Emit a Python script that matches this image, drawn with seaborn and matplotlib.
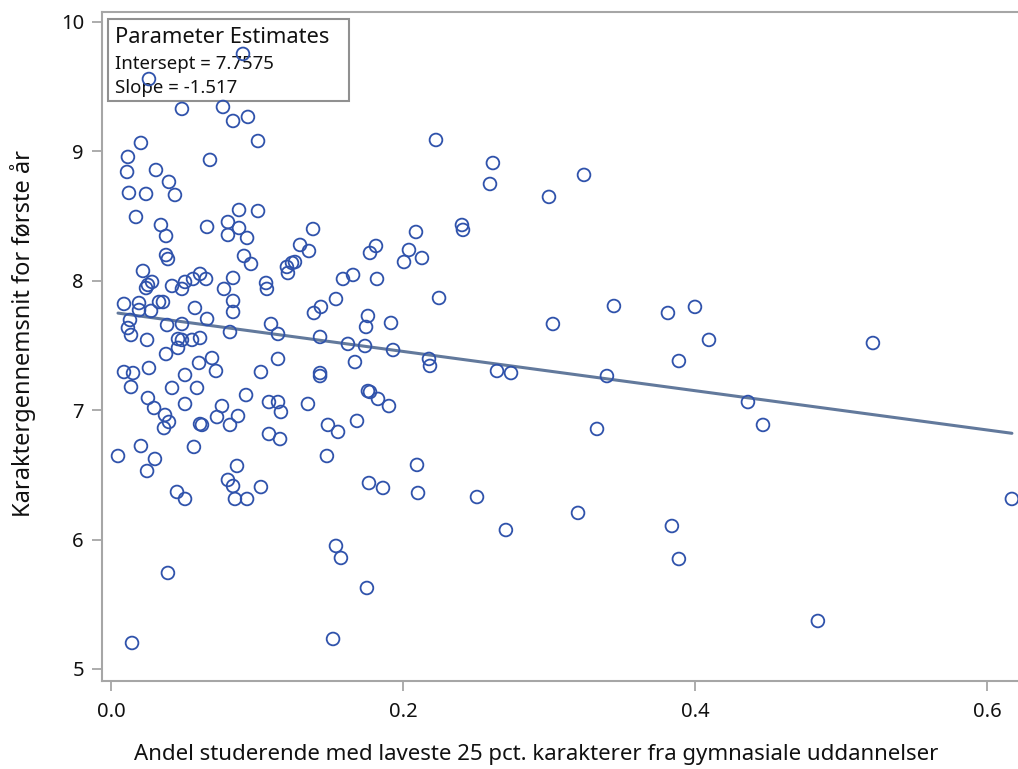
import matplotlib
matplotlib.use("Agg")
import matplotlib.pyplot as plt
import seaborn as sns
import numpy as np
import pandas as pd
from matplotlib.patches import Rectangle

# ---- data ----
share_low = [
    0.0904, 0.0260, 0.0486, 0.0767, 0.0836, 0.0938, 0.0205, 0.1007, 0.0116, 0.0678,
    0.0110, 0.0308, 0.0397, 0.0123, 0.0240, 0.0438, 0.0877, 0.1007, 0.0171, 0.0342,
    0.0658, 0.0801, 0.0877, 0.0377, 0.0801, 0.0932, 0.2226, 0.2616, 0.2596, 0.1384,
    0.2089, 0.2404, 0.2411, 0.1295, 0.0377, 0.0390, 0.0911, 0.0959, 0.0219, 0.1205,
    0.1240, 0.1260, 0.1212, 0.0253, 0.0281, 0.0418, 0.0486, 0.0507, 0.0562, 0.0610,
    0.0651, 0.0836, 0.0774, 0.1062, 0.1068, 0.0089, 0.0192, 0.0329, 0.0356, 0.0575,
    0.0836, 0.0836, 0.0192, 0.0274, 0.0130, 0.0116, 0.0137, 0.0384, 0.0486, 0.0658,
    0.0815, 0.1096, 0.1144, 0.0247, 0.0459, 0.0486, 0.0459, 0.0555, 0.0610, 0.0377,
    0.0603, 0.0692, 0.0719, 0.1144, 0.1027, 0.0089, 0.0151, 0.0260, 0.0507, 0.0137,
    0.0418, 0.0589, 0.0253, 0.0295, 0.0507, 0.0925, 0.0760, 0.0726, 0.0870, 0.0815,
    0.1082, 0.1144, 0.1164, 0.0370, 0.0397, 0.0363, 0.0610, 0.0623, 0.1082, 0.1158,
    0.0205, 0.0568, 0.0048, 0.0301, 0.0240, 0.1356, 0.1774, 0.1815, 0.2041, 0.2007,
    0.2130, 0.1589, 0.1658, 0.1822, 0.1541, 0.2247, 0.1390, 0.1438, 0.1760, 0.1747,
    0.1918, 0.1432, 0.1623, 0.1740, 0.1932, 0.2178, 0.2185, 0.2644, 0.1671, 0.1432,
    0.1432, 0.1760, 0.1774, 0.1829, 0.1904, 0.1349, 0.1486, 0.1555, 0.1685, 0.1479,
    0.0247, 0.0863, 0.0801, 0.0836, 0.1027, 0.0452, 0.0507, 0.0849, 0.0932, 0.0390,
    0.0144, 0.2096, 0.1767, 0.1863, 0.2103, 0.2507, 0.1541, 0.1575, 0.1753, 0.1521,
    0.3240, 0.3000, 0.3445, 0.3815, 0.4000, 0.3027, 0.4096, 0.3890, 0.2740, 0.3397,
    0.5219, 0.4363, 0.4466, 0.6171, 0.4842, 0.3329, 0.3199, 0.2705, 0.3842, 0.3890,
]
grade_first_year = [
    9.753, 9.559, 9.328, 9.343, 9.235, 9.266, 9.065, 9.080, 8.957, 8.934,
    8.841, 8.856, 8.764, 8.679, 8.671, 8.663, 8.547, 8.539, 8.493, 8.431,
    8.416, 8.454, 8.408, 8.346, 8.354, 8.331, 9.088, 8.910, 8.748, 8.400,
    8.377, 8.431, 8.393, 8.277, 8.199, 8.168, 8.192, 8.130, 8.076, 8.107,
    8.138, 8.145, 8.060, 7.968, 7.991, 7.960, 7.937, 7.991, 8.014, 8.053,
    8.014, 8.022, 7.937, 7.983, 7.937, 7.821, 7.828, 7.836, 7.836, 7.790,
    7.844, 7.759, 7.774, 7.767, 7.697, 7.635, 7.581, 7.658, 7.666, 7.705,
    7.604, 7.666, 7.589, 7.543, 7.550, 7.543, 7.481, 7.543, 7.558, 7.434,
    7.365, 7.403, 7.303, 7.396, 7.295, 7.295, 7.287, 7.326, 7.272, 7.179,
    7.172, 7.172, 7.094, 7.017, 7.048, 7.117, 7.032, 6.947, 6.955, 6.886,
    7.063, 7.063, 6.986, 6.963, 6.909, 6.862, 6.893, 6.886, 6.816, 6.777,
    6.723, 6.716, 6.646, 6.623, 7.944, 8.230, 8.215, 8.269, 8.238, 8.145,
    8.176, 8.014, 8.045, 8.014, 7.859, 7.867, 7.751, 7.798, 7.728, 7.643,
    7.674, 7.566, 7.512, 7.496, 7.465, 7.396, 7.342, 7.303, 7.372, 7.287,
    7.264, 7.148, 7.141, 7.087, 7.032, 7.048, 6.886, 6.832, 6.917, 6.646,
    6.530, 6.569, 6.461, 6.414, 6.406, 6.368, 6.314, 6.314, 6.314, 5.742,
    5.201, 6.577, 6.437, 6.399, 6.360, 6.329, 5.951, 5.858, 5.626, 5.232,
    8.818, 8.648, 7.805, 7.751, 7.798, 7.666, 7.543, 7.380, 7.287, 7.264,
    7.519, 7.063, 6.886, 6.314, 5.371, 6.855, 6.206, 6.074, 6.105, 5.850,
]
intercept = 7.7575
slope = -1.517
x_ticks = [0.0, 0.2, 0.4, 0.6]
x_tick_labels = ["0.0", "0.2", "0.4", "0.6"]
y_ticks = [5, 6, 7, 8, 9, 10]
y_tick_labels = ["5", "6", "7", "8", "9", "10"]
title_box = "Parameter Estimates"
box_lines = ["Intersept = 7.7575", "Slope = -1.517"]
xlabel = "Andel studerende med laveste 25 pct. karakterer fra gymnasiale uddannelser"
ylabel = "Karaktergennemsnit for første år"

df = pd.DataFrame({"x": share_low, "y": grade_first_year})
xmin, xmax = df["x"].min(), df["x"].max()
fit = pd.DataFrame({"x": [xmin, xmax]})
fit["y"] = intercept + slope * fit["x"]

sns.set_theme(style="white")
plt.rcParams["font.family"] = ["Noto Sans", "DejaVu Sans"]

fig = plt.figure(figsize=(10.18, 7.69), dpi=100)
ax = fig.add_axes([0.1002, 0.1144, 0.905, 0.870])

marker_color = "#2f52ab"
line_color = "#62799c"
spine_color = "#a6a6a6"
text_color = "#111111"

# parameter box (drawn beneath the markers, as in the reference)
rect = Rectangle((0.0066, 0.867), 0.262, 0.122, transform=ax.transAxes,
                 facecolor="white", edgecolor="#909090", linewidth=1.5, zorder=1)
ax.add_patch(rect)
ax.text(0.0143, 0.962, title_box, transform=ax.transAxes, fontsize=15.7,
        color=text_color, va="center", ha="left", zorder=1.2)
ax.text(0.0143, 0.922, box_lines[0], transform=ax.transAxes, fontsize=13.4,
        color=text_color, va="center", ha="left", zorder=1.2)
ax.text(0.0143, 0.887, box_lines[1], transform=ax.transAxes, fontsize=13.4,
        color=text_color, va="center", ha="left", zorder=1.2)

sns.lineplot(data=fit, x="x", y="y", ax=ax, color=line_color, linewidth=2.2, zorder=2)
sns.scatterplot(data=df, x="x", y="y", ax=ax, s=84, marker="o",
                facecolor="none", edgecolor=marker_color, linewidth=1.3, zorder=3)

ax.set_xlim(-0.00616, 0.6249)
ax.set_ylim(4.907, 10.077)
ax.set_xticks(x_ticks)
ax.set_xticklabels(x_tick_labels)
ax.set_yticks(y_ticks)
ax.set_yticklabels(y_tick_labels)
ax.tick_params(axis="both", which="major", direction="out", length=7, width=1.3,
               color=spine_color, labelsize=14.5, labelcolor=text_color,
               left=True, bottom=True)
ax.tick_params(axis="x", pad=8)
ax.tick_params(axis="y", pad=6)
for side in ["left", "bottom", "top", "right"]:
    ax.spines[side].set_color(spine_color)
    ax.spines[side].set_linewidth(1.5)

ax.set_xlabel(xlabel, fontsize=16, color=text_color)
ax.set_ylabel(ylabel, fontsize=17, color=text_color)
ax.xaxis.set_label_coords(0.4716, -0.094)
ax.yaxis.set_label_coords(-0.072, 0.52)

fig.savefig("out.png", dpi=100, facecolor="white")
